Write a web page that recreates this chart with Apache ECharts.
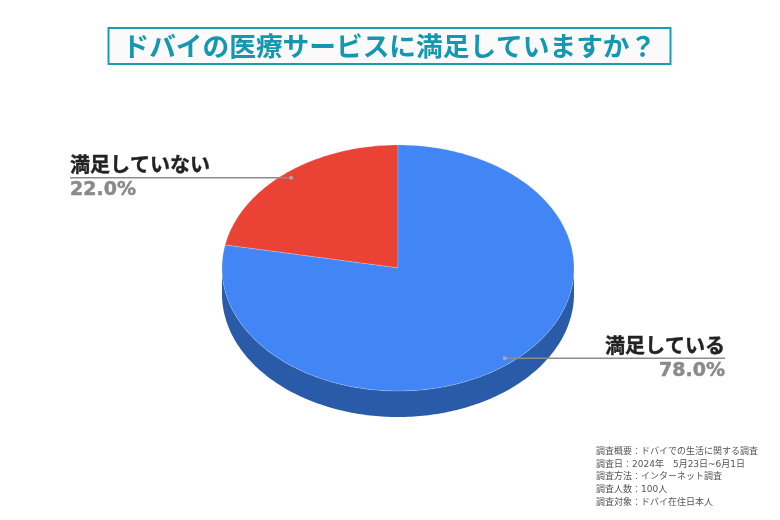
<!DOCTYPE html>
<html lang="ja">
<head>
<meta charset="utf-8">
<style>html,body{margin:0;padding:0;background:#fff}#c{width:780px;height:520px}</style>
<script src="https://cdn.jsdelivr.net/npm/echarts@6/dist/echarts.min.js"></script>
</head>
<body>
<div id="c"></div>
<script>
const titleText = 'ドバイの医療サービスに満足していますか？';
const categories = ['満足していない', '満足している'];
const values = [22.0, 78.0];
const topColors = ['#ea4335', '#4285f4'];
const wallColors = ['#a5281e', '#2a5ba8'];
const footnotes = [
  '調査概要：ドバイでの生活に関する調査',
  '調査日：2024年　5月23日~6月1日',
  '調査方法：インターネット調査',
  '調査人数：100人',
  '調査対象：ドバイ在住日本人'
];

const JP = '"Noto Sans CJK JP","Noto Sans",sans-serif';
const CX = 398, CY = 268, RX = 176, RY = 123, DEPTH = 26;
const total = values.reduce((a, b) => a + b, 0);
// Slices run clockwise, the first one ending at 12 o'clock.
const firstStart = -values[0] / total * 2 * Math.PI;
function sliceRange(i) {
  let a = firstStart;
  for (let k = 0; k < i; k++) a += values[k] / total * 2 * Math.PI;
  return [a, a + values[i] / total * 2 * Math.PI];
}
const pt = (a, r, dy) => [CX + RX * r * Math.sin(a), CY - RY * r * Math.cos(a) + (dy || 0)];
function arc(a0, a1, dy) {
  const n = Math.max(2, Math.ceil(Math.abs(a1 - a0) * 60)), out = [];
  for (let k = 0; k <= n; k++) out.push(pt(a0 + (a1 - a0) * k / n, 1, dy));
  return out;
}

function renderWall(params, api) {
  const i = params.dataIndex;
  const [a0, a1] = sliceRange(i);
  const s = Math.max(a0, Math.PI / 2), e = Math.min(a1, 1.5 * Math.PI);
  if (e <= s) return { type: 'group', children: [] };
  return {
    type: 'polygon',
    shape: { points: arc(s, e, 0).concat(arc(e, s, DEPTH)) },
    style: { fill: wallColors[i] }
  };
}

function renderTop(params, api) {
  const i = params.dataIndex;
  const [a0, a1] = sliceRange(i);
  return {
    type: 'polygon',
    shape: { points: [[CX, CY]].concat(arc(a0, a1, 0)) },
    style: { fill: topColors[i], stroke: 'rgba(255,255,255,0.35)', lineWidth: 0.6, lineJoin: 'round' }
  };
}

function renderLabel(params, api) {
  const i = params.dataIndex;
  const [a0, a1] = sliceRange(i);
  const [dx, dy] = pt((a0 + a1) / 2, 0.952);
  const leftSide = dx < CX;
  const endX = leftSide ? 70 : 725;
  const anchor = leftSide ? 'left' : 'right';
  return {
    type: 'group',
    children: [
      { type: 'line', shape: { x1: dx, y1: dy, x2: endX, y2: dy }, style: { stroke: '#8c8c8c', lineWidth: 1.5 } },
      { type: 'circle', shape: { cx: dx, cy: dy, r: 2 }, style: { fill: '#a9a9a9' } },
      { type: 'text', x: endX, y: dy - 3, style: { text: api.value(1), font: 'bold 20px ' + JP, fill: '#222', stroke: '#222', lineWidth: 0.4, align: anchor, verticalAlign: 'bottom' } },
      { type: 'text', x: endX, y: dy + 3, style: { text: api.value(0).toFixed(1) + '%', font: 'bold 19px "DejaVu Sans"', fill: '#8a8a8a', stroke: '#8a8a8a', lineWidth: 0.5, align: anchor, verticalAlign: 'top' } }
    ]
  };
}

const sliceData = values.map((v, i) => [v, categories[i]]);
const chart = echarts.init(document.getElementById('c'), null, { renderer: 'canvas' });
chart.setOption({
  animation: false,
  backgroundColor: '#fff',
  title: [
    {
      text: titleText,
      left: 108, top: 28,
      padding: [3, 14.5, 3, 14.5],
      borderColor: '#1a9cb5', borderWidth: 2, backgroundColor: '#fafafa',
      textStyle: { color: '#1497b0', fontFamily: JP, fontWeight: 'bold', fontSize: 26.7, lineHeight: 30 }
    },
    {
      text: footnotes.join('\n'),
      left: 596, top: 445, padding: 0,
      textStyle: { color: '#555', fontFamily: '"DejaVu Sans",' + JP, fontWeight: 'normal', fontSize: 9, lineHeight: 12.8 }
    }
  ],
  series: [
    { type: 'custom', coordinateSystem: 'none', z: 1, data: sliceData, renderItem: renderWall, silent: true },
    { type: 'custom', coordinateSystem: 'none', z: 2, data: sliceData, renderItem: renderTop, silent: true },
    { type: 'custom', coordinateSystem: 'none', z: 3, data: sliceData, renderItem: renderLabel, silent: true,
      dimensions: ['value', { name: 'name', type: 'ordinal' }] }
  ]
});
</script>
</body>
</html>
